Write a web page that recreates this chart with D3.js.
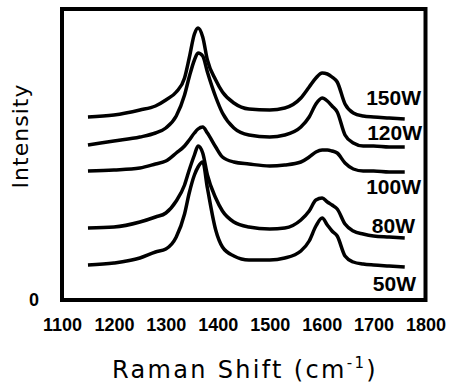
<!DOCTYPE html>
<html>
<head>
<meta charset="utf-8">
<script src="https://cdn.jsdelivr.net/npm/d3@7"></script>
<style>
  body { margin: 0; background: #fff; }
  svg { display: block; }
  text { font-family: "Liberation Sans", Arial, sans-serif; fill: #000; }
</style>
</head>
<body>
<div id="chart"></div>
<script>
// Raman spectra of films deposited at different RF powers

// Raman shift (cm-1) sample points, shared by every spectrum
var shift = [1150, 1200, 1250, 1280, 1300, 1320, 1336, 1345, 1355, 1362, 1371, 1380, 1396, 1409, 1431,
             1460, 1500, 1529, 1560, 1576, 1589, 1601, 1611, 1620, 1630, 1645, 1661, 1680, 1700, 1730, 1760];

// Series names (top to bottom) and their intensities, arbitrary units, stacked offsets included
var powers = ["150W", "120W", "100W", "80W", "50W"];

var i150 = [185, 187, 192, 196, 202, 210, 224, 244, 268, 274, 265, 242, 222, 210, 199,
            193, 192, 194, 204, 215, 224, 229, 228, 225, 220, 198, 189, 186, 185, 184, 183];
var i120 = [157, 161, 165, 169, 174, 186, 207, 225, 242, 249, 246, 230, 205, 189, 174,
            167, 165, 167, 175, 185, 198, 204, 201, 196, 190, 167, 159, 156, 156, 155, 155];
var i100 = [131, 132, 134, 138, 141, 149, 156, 162, 169, 173, 175, 169, 155, 145, 140,
            138, 136, 137, 140, 145, 150, 152, 152, 151, 149, 139, 133, 131, 131, 130, 130];
var i80  = [74, 75, 80, 85, 89, 101, 117, 132, 147, 156, 149, 127, 104, 91, 80,
            75, 73, 74, 82, 91, 102, 104, 100, 97, 93, 78, 71, 68, 66, 65, 64];
var i50  = [37, 39, 44, 50, 53, 65, 88, 109, 127, 135, 140, 114, 72, 55, 46,
            42, 42, 44, 51, 61, 76, 84, 77, 71, 66, 46, 40, 38, 37, 36, 35];

var intensities = [i150, i120, i100, i80, i50];

// Axis ticks
var xTicks = [1100, 1200, 1300, 1400, 1500, 1600, 1700, 1800];
var yTicks = [0];

// Layout
var W = 449, H = 388;
var frame = {left: 62, top: 9, right: 425.5, bottom: 300};
// nudge of each label from its curve's right end, px
var labelDy = [-22, -15, 14, -13, 16];
var labelDx = [0, 1, 0, -6, -5];

var svg = d3.select("#chart").append("svg")
    .attr("width", W)
    .attr("height", H);

var x = d3.scaleLinear()
    .domain([1100, 1800])
    .range([frame.left, frame.right]);

var y = d3.scaleLinear()
    .domain([0, 293])
    .range([302, frame.top]);

// Frame
svg.append("rect")
    .attr("x", frame.left)
    .attr("y", frame.top)
    .attr("width", frame.right - frame.left)
    .attr("height", frame.bottom - frame.top)
    .attr("fill", "none")
    .attr("stroke", "#000")
    .attr("stroke-width", 4);

// x axis (labels only)
var xAxis = svg.append("g")
    .attr("transform", "translate(0," + frame.bottom + ")")
    .call(d3.axisBottom(x).tickValues(xTicks).tickSize(0).tickPadding(18).tickFormat(d3.format("d")));
xAxis.select(".domain").remove();
xAxis.selectAll("text")
    .style("font-family", "Liberation Sans, Arial, sans-serif")
    .attr("font-size", 18)
    .attr("font-weight", "bold");

// y axis: just the zero
var yAxis = svg.append("g")
    .attr("transform", "translate(" + frame.left + ",0)")
    .call(d3.axisLeft(y).tickValues(yTicks).tickSize(0).tickPadding(23));
yAxis.select(".domain").remove();
yAxis.selectAll("text")
    .style("font-family", "Liberation Sans, Arial, sans-serif")
    .attr("font-size", 18)
    .attr("font-weight", "bold")
    .attr("dy", "0.2em");

// Spectra
var line = d3.line()
    .x(function (d, i) { return x(shift[i]); })
    .y(function (d) { return y(d); })
    .curve(d3.curveMonotoneX);

svg.selectAll(".spectrum")
    .data(intensities)
    .enter().append("path")
    .attr("class", "spectrum")
    .attr("d", line)
    .attr("fill", "none")
    .attr("stroke", "#000")
    .attr("stroke-width", 3.5)
    .attr("stroke-linejoin", "round")
    .attr("stroke-linecap", "butt");

// Series labels at the right end
svg.selectAll(".plabel")
    .data(powers)
    .enter().append("text")
    .attr("class", "plabel")
    .attr("x", function (d, i) { return 421 + labelDx[i]; })
    .attr("y", function (d, i) { return y(intensities[i][intensities[i].length - 1]) + labelDy[i]; })
    .attr("dy", "0.36em")
    .attr("text-anchor", "end")
    .attr("font-size", 21)
    .attr("font-weight", "bold")
    .text(function (d) { return d; });

// stretch text to a target width with letter spacing
function spread(sel, target) {
    var len = sel.node().getComputedTextLength();
    var n = sel.text().length;
    sel.attr("letter-spacing", ((target - len) / n).toFixed(2));
}

// x title
var xTitle = svg.append("text")
    .attr("x", 245)
    .attr("y", 378)
    .attr("text-anchor", "middle")
    .style("font-family", "DejaVu Sans, sans-serif")
    .attr("font-size", 24);
xTitle.append("tspan").text("Raman Shift (cm");
xTitle.append("tspan").attr("font-size", 15).attr("dy", -10).text("-1");
xTitle.append("tspan").attr("dy", 10).text(")");
spread(xTitle, 266);

// y title
var yTitle = svg.append("text")
    .attr("transform", "translate(28,136) rotate(-90)")
    .attr("text-anchor", "middle")
    .style("font-family", "DejaVu Sans, sans-serif")
    .attr("font-size", 22)
    .text("Intensity");
spread(yTitle, 105);
</script>
</body>
</html>
